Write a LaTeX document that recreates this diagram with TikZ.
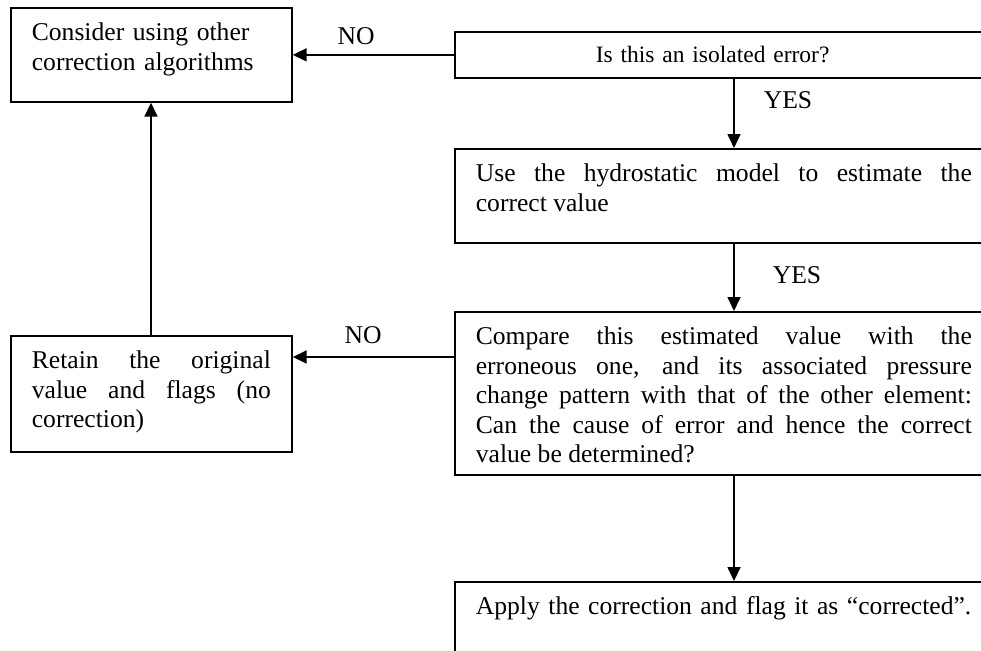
\documentclass[tikz,border=0pt]{standalone}
\usepackage{fontspec}
\setmainfont{Liberation Serif}
\usetikzlibrary{arrows.meta,calc}
\tolerance=10000
\hbadness=10000
\hyphenpenalty=10000
\begin{document}
\begin{tikzpicture}[x=1pt,y=-1pt,
  every node/.style={font=\fontsize{25.6}{29.5}\selectfont},
  flowbox/.style={draw, line width=1.7pt, anchor=north west,
    inner xsep=21pt, inner ysep=0pt, text height=33pt},
  narrow/.style={text width=239pt},
  wide/.style={text width=496pt},
  flow/.style={line width=1.7pt, -{Triangle[length=14pt,width=13pt]}},
  lbl/.style={inner sep=0pt}]
\useasboundingbox (0,0) rectangle (981,650);
\clip (0,0) rectangle (981,650);

% left column
\node[flowbox, narrow, align=left, text depth=61pt] (A) at (10,7)
  {Consider using other\\correction algorithms};
\node[flowbox, narrow, align=justify, text depth=83pt] (D) at (10,335)
  {Retain the original\linebreak value and flags (no\linebreak correction)};

% right column (runs past the right edge)
\node[flowbox, wide, align=left, text height=31pt, text depth=15pt,
  font=\fontsize{23.5}{28}\selectfont] (B) at (454,31)
  {\hspace*{120pt}Is this an isolated error?};
\node[flowbox, wide, align=justify, text depth=61pt] (H) at (454,148)
  {Use the hydrostatic model to estimate the\linebreak correct value};
\node[flowbox, wide, align=justify, text depth=130pt] (C) at (454,311)
  {Compare this estimated value with the\linebreak
   erroneous one, and its associated pressure\linebreak
   change pattern with that of the other element:\linebreak
   Can the cause of error and hence the correct\linebreak
   value be determined?};
\node[flowbox, wide, align=left, text depth=67pt] (E) at (454,581)
  {Apply the correction and flag it as \char"201Ccorrected\char"201D.};

% connectors
\coordinate (col) at (734,0);
\coordinate (lcol) at (151,0);
\draw[flow] (B.south -| col) -- (H.north -| col);
\draw[flow] (H.south -| col) -- (C.north -| col);
\draw[flow] (C.south -| col) -- (E.north -| col);
\draw[flow] (B.west) -- (A.east);
\coordinate (cout) at ($(C.north west)+(0,46)$);
\draw[flow] (cout) -- (cout -| D.east);
\draw[flow] (D.north -| lcol) -- (A.south -| lcol);

% branch labels
\node[lbl] (no1) at (356,36) {NO};
\node[lbl] (no2) at (363,335) {NO};
\node[lbl] (yes1) at (788,100) {YES};
\node[lbl] (yes2) at (797,275) {YES};
\end{tikzpicture}
\end{document}
